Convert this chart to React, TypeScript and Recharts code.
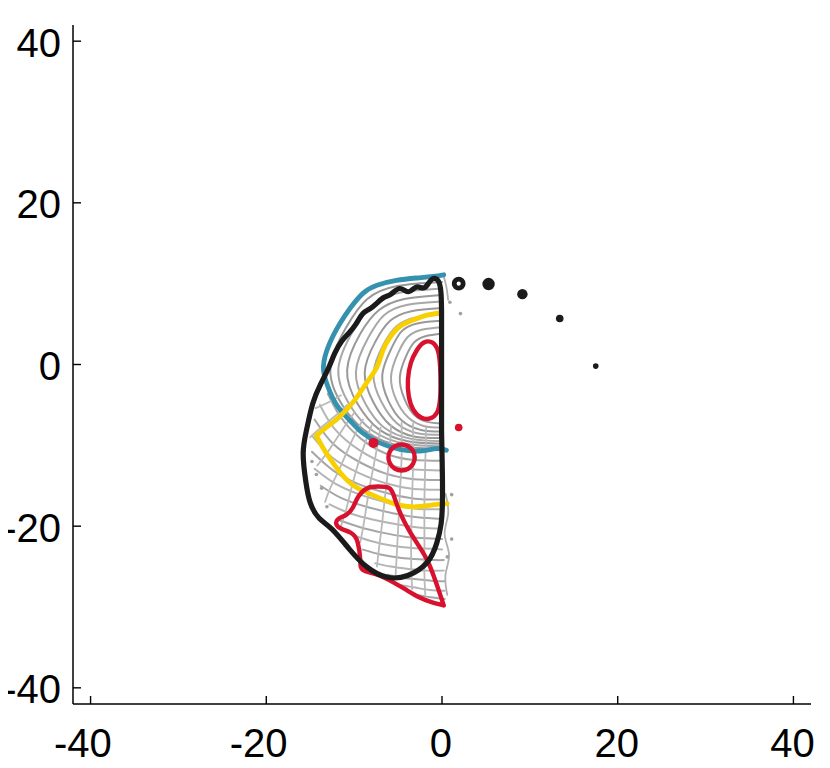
import { ScatterChart, Scatter, XAxis, YAxis } from "recharts";

type Pt = [number, number];

const xTicks = [-40, -20, 0, 20, 40];
const yTicks = [-40, -20, 0, 20, 40];

const blueLine: Pt[] = [
  [0.2, 11.1], [-1.0, 10.9], [-2.9, 10.7], [-5.2, 10.4], [-7.4, 9.8], [-9.0, 8.8],
  [-10.5, 6.9], [-11.6, 5.1], [-12.8, 2.6], [-13.5, -0.3], [-13.0, -2.7], [-12.0, -5.0],
  [-10.5, -6.9], [-9.0, -8.5], [-7.1, -9.7], [-4.8, -10.5], [-2.5, -10.7], [-0.6, -10.4], [0.5, -10.6],
];

const yellowUpper: Pt[] = [
  [-0.2, 6.4], [-1.7, 6.1], [-3.3, 5.5], [-4.8, 4.7], [-5.9, 3.4], [-6.7, 1.8], [-7.4, -0.3],
  [-8.6, -2.3], [-10.0, -4.5], [-11.8, -6.6], [-13.2, -7.8], [-14.3, -8.8],
];
const yellowLower: Pt[] = [
  [-14.3, -8.8], [-13.6, -10.2], [-12.6, -11.9], [-11.4, -13.6], [-9.9, -15.1], [-7.6, -16.3],
  [-5.2, -17.3], [-2.9, -17.6], [-0.6, -17.3], [0.6, -17.2],
];

const blackOutline: Pt[] = [
  [-0.05, 4.0], [-0.05, 1.0], [-0.05, -2.0], [-0.05, -5.0], [-0.05, -8.0], [0.0, -11.0],
  [0.05, -14.0], [0.05, -17.0], [-0.1, -19.7], [-0.6, -22.1], [-1.7, -24.5], [-3.9, -26.1],
  [-6.3, -26.3], [-8.6, -25.0], [-10.5, -22.9], [-12.5, -20.4], [-14.0, -19.0], [-15.0, -17.1],
  [-15.5, -14.5], [-15.8, -11.0], [-15.4, -8.0], [-14.7, -4.8], [-13.8, -2.4], [-12.9, -0.4],
  [-12.2, 1.4], [-11.4, 2.9], [-10.6, 3.9], [-9.8, 5.0], [-9.0, 6.3], [-8.2, 6.9], [-7.4, 7.6],
  [-6.6, 8.3], [-5.8, 8.7], [-4.8, 9.4], [-3.8, 9.0], [-2.9, 9.6], [-2.0, 9.5], [-1.2, 10.5],
  [-0.4, 10.3], [-0.1, 8.6], [-0.05, 6.3], [-0.05, 4.0],
];

const redCore: Pt[] = [
  [-3.95, -1.8], [-3.85, -4.0], [-3.35, -5.7], [-2.4, -6.7], [-1.3, -6.8], [-0.5, -6.1],
  [-0.2, -4.6], [-0.15, -2.5], [-0.2, -0.2], [-0.35, 1.7], [-1.0, 2.9], [-2.1, 2.9],
  [-2.9, 1.8], [-3.6, 0.3],
];

const redRing: Pt[] = [
  [-4.6, -9.82], [-3.82, -10.05], [-3.24, -10.66], [-3.03, -11.5], [-3.24, -12.34], [-3.82, -12.96],
  [-4.6, -13.18], [-5.38, -12.96], [-5.96, -12.34], [-6.17, -11.5], [-5.96, -10.66], [-5.38, -10.05],
];

const redLobe: Pt[] = [
  [0.2, -29.8], [-1.2, -29.4], [-2.6, -28.8], [-4.2, -27.8], [-5.8, -26.8], [-7.4, -26.0],
  [-9.0, -25.4], [-9.3, -24.2], [-9.6, -22.0], [-10.4, -20.8], [-11.8, -20.1], [-11.9, -19.2],
  [-10.9, -18.6], [-10.1, -17.6], [-9.5, -16.3], [-8.5, -15.3], [-7.3, -15.1], [-6.0, -15.3],
  [-5.4, -16.5], [-4.7, -18.5], [-3.7, -20.6], [-2.6, -22.5], [-1.6, -24.4], [-0.8, -26.6],
  [-0.2, -28.5], [0.2, -29.8],
];

const redDot: Pt[] = [[-7.8, -9.7]];
const redStar: Pt[] = [[1.9, -7.8]];

const blackDots: Pt[] = [[1.9, 10.0], [5.3, 9.95], [9.15, 8.7], [13.4, 5.7], [17.5, -0.2]];

const grayDots: Pt[] = [
  [-14.8, -12.0], [-14.3, -13.6], [-13.7, -15.3], [-13.1, -17.6], [1.1, -16.1],
  [1.1, -21.6], [0.6, -23.8], [2.1, 6.3], [0.9, 7.7],
];

const innerArcs: Pt[][] = [
  [[0, 3.8], [-1.9, 3.5], [-3.2, 2.7], [-4.1, 1.0], [-4.8, -1.6], [-4.3, -4.2], [-3.2, -6.2], [-1.7, -7.1], [0, -7.3]],
  [[0, 4.6], [-2.3, 4.3], [-3.9, 3.4], [-5.0, 1.4], [-5.8, -1.5], [-5.2, -4.4], [-3.9, -6.5], [-2.1, -7.6], [0, -7.8]],
  [[0, 5.4], [-2.7, 5.1], [-4.6, 4.1], [-5.8, 1.9], [-6.8, -1.3], [-6.1, -4.5], [-4.6, -6.9], [-2.4, -8.1], [0, -8.3]],
  [[0, 6.2], [-3.1, 5.8], [-5.2, 4.7], [-6.7, 2.4], [-7.8, -1.2], [-6.9, -4.6], [-5.2, -7.2], [-2.8, -8.5], [0, -8.7]],
  [[0, 7.0], [-3.5, 6.6], [-5.9, 5.4], [-7.6, 2.8], [-8.8, -1.0], [-7.8, -4.7], [-5.9, -7.5], [-3.2, -8.9], [0, -9.1]],
  [[0, 7.8], [-3.9, 7.4], [-6.6, 6.1], [-8.4, 3.3], [-9.8, -0.9], [-8.7, -4.9], [-6.6, -7.8], [-3.5, -9.2], [0, -9.5]],
  [[0, 8.6], [-4.3, 8.1], [-7.2, 6.7], [-9.3, 3.8], [-10.8, -0.7], [-9.6, -4.9], [-7.2, -8.0], [-3.9, -9.5], [0, -9.8]],
  [[0, 9.4], [-4.7, 8.9], [-7.9, 7.4], [-10.1, 4.2], [-11.8, -0.6], [-10.5, -5.0], [-7.9, -8.2], [-4.2, -9.8], [0, -10.1]],
  [[0, 10.2], [-5.1, 9.7], [-8.5, 8.1], [-10.9, 4.6], [-12.7, -0.5], [-11.3, -5.1], [-8.5, -8.4], [-4.6, -10.1], [0, -10.4]],
];

const lowerLines: Pt[][] = [
  [[-13.0, -3.6], [-11.6, -6.4], [-9.2, -9.2], [-6.2, -11.1], [-3.2, -11.8], [0, -11.9]],
  [[-13.9, -5.0], [-12.2, -8.0], [-9.4, -10.6], [-6.3, -12.3], [-3.2, -13.0], [0, -13.1]],
  [[-14.5, -6.8], [-12.4, -9.8], [-9.5, -12.0], [-6.4, -13.5], [-3.2, -14.2], [0, -14.3]],
  [[-14.8, -8.8], [-12.5, -11.5], [-9.5, -13.4], [-6.4, -14.7], [-3.2, -15.4], [0, -15.5]],
  [[-14.8, -10.8], [-12.4, -13.1], [-9.5, -14.8], [-6.3, -15.9], [-3.1, -16.6], [0, -16.7]],
  [[-14.5, -12.9], [-12.2, -14.7], [-9.3, -16.1], [-6.2, -17.1], [-3.1, -17.8], [0, -17.9]],
  [[-13.8, -15.0], [-11.5, -16.5], [-8.6, -17.6], [-5.6, -18.4], [-2.8, -18.9], [0, -19.1]],
  [[-12.8, -17.3], [-10.5, -18.4], [-7.8, -19.2], [-5.0, -19.8], [-2.4, -20.2], [0, -20.3]],
  [[-11.6, -19.3], [-9.4, -20.1], [-6.8, -20.8], [-4.2, -21.3], [-1.8, -21.5], [0, -21.6]],
  [[-10.3, -21.1], [-8.2, -21.8], [-5.8, -22.4], [-3.4, -22.7], [-1.2, -22.8], [0, -22.9]],
  [[-9.0, -22.9], [-7.0, -23.5], [-4.8, -23.9], [-2.6, -24.1], [-0.8, -24.2], [0.2, -24.2]],
  [[-7.6, -24.6], [-5.8, -25.0], [-3.8, -25.3], [-1.8, -25.5], [0.2, -25.5]],
  [[-6.2, -26.0], [-4.5, -26.4], [-2.6, -26.6], [-0.8, -26.8], [0.3, -26.8]],
  [[-4.6, -27.3], [-3.0, -27.6], [-1.4, -27.9], [0.3, -28.0]],
  [[-2.8, -28.5], [-1.3, -28.8], [0.3, -29.0]],
];

const radialLines: Pt[][] = [
  [[-11.5, -3.8], [-12.8, -4.6], [-14.4, -5.4]],
  [[-10.8, -5.0], [-12.3, -6.5], [-14.0, -8.0], [-15.0, -9.0]],
  [[-10.0, -6.0], [-11.3, -8.0], [-12.8, -10.5], [-14.2, -12.5]],
  [[-9.0, -6.8], [-10.2, -9.3], [-11.5, -12.5], [-12.8, -15.5], [-13.3, -17.0]],
  [[-8.0, -7.5], [-9.0, -10.5], [-10.0, -14.0], [-10.8, -17.5], [-11.5, -20.0]],
  [[-7.0, -7.8], [-7.6, -11.5], [-8.3, -15.5], [-8.8, -19.0], [-9.3, -22.0]],
  [[-5.8, -7.5], [-6.0, -11.5], [-6.4, -15.5], [-6.8, -19.5], [-7.2, -23.0], [-7.4, -25.0]],
  [[-4.6, -7.2], [-4.6, -11.5], [-4.8, -16.0], [-5.0, -20.5], [-5.2, -24.5], [-5.3, -26.5]],
  [[-3.3, -7.3], [-3.3, -12.0], [-3.4, -16.5], [-3.5, -21.0], [-3.5, -25.0], [-3.4, -27.8]],
  [[-1.8, -7.8], [-1.9, -12.0], [-2.0, -17.0], [-2.0, -22.0], [-2.0, -26.0], [-1.9, -28.5]],
];

const edgeLines: Pt[][] = [
  [[0.2, 10.9], [0.5, 9.6], [0.7, 8.0]],
  [[0.4, -16.0], [0.7, -18.5], [0.3, -21.0], [0.8, -23.5], [0.4, -26.0], [0.6, -28.5]],
];

const FONT = "'Liberation Sans', Arial, Helvetica, sans-serif";
const FS = 40;
const BLUE = "#3592ae";
const YELLOW = "#f8d000";
const RED = "#d8112e";
const BLACK = "#1b1b1b";

const dotRadius = [4.5, 6.2, 5.2, 3.8, 2.8];

const toRows = (pts: Pt[]) => pts.map(([x, y], i) => ({ x, y, i }));
const noDot = () => <g />;

function path(key: string, pts: Pt[], color: string, width: number, curve: any = "natural") {
  return (
    <Scatter
      key={key}
      data={toRows(pts)}
      line={{ stroke: color, strokeWidth: width, strokeLinecap: "round", strokeLinejoin: "round", fill: "none" }}
      lineJointType={curve}
      shape={noDot}
      isAnimationActive={false}
    />
  );
}

function XTick({ x, y, payload }: any) {
  const v = payload.value;
  const half = (String(Math.abs(v)).length * 0.556 * FS) / 2;
  return (
    <g>
      <line x1={x} x2={x} y1={y} y2={y - 8} stroke="#000" strokeWidth={1.4} />
      <text x={x + half - 1} y={y + 53} textAnchor="end" fontSize={FS} fontFamily={FONT} fill="#000">
        {v}
      </text>
    </g>
  );
}

function YTick({ x, y, payload }: any) {
  return (
    <g>
      <line x1={x} x2={x + 8} y1={y} y2={y} stroke="#000" strokeWidth={1.4} />
      <text x={x - 12} y={y + 15.5} textAnchor="end" fontSize={FS} fontFamily={FONT} fill="#000">
        {payload.value}
      </text>
    </g>
  );
}

export default function App() {
  return (
    <div style={{ margin: "-8px 0 0 -8px" }}>
      <ScatterChart width={822} height={764} margin={{ top: 25, right: 11, bottom: 0, left: 0 }}>
        <XAxis
          type="number"
          dataKey="x"
          domain={[-42, 42]}
          ticks={xTicks}
          interval={0}
          tickSize={0}
          tickMargin={0}
          tickLine={false}
          axisLine={{ stroke: "#000", strokeWidth: 1.5 }}
          tick={<XTick />}
          height={60}
          allowDataOverflow
        />
        <YAxis
          type="number"
          dataKey="y"
          domain={[-42, 42]}
          ticks={yTicks}
          interval={0}
          tickSize={0}
          tickMargin={0}
          tickLine={false}
          axisLine={{ stroke: "#000", strokeWidth: 1.5 }}
          tick={<YTick />}
          width={73}
          allowDataOverflow
        />
        {innerArcs.map((c, k) => path(`a${k}`, c, k % 2 ? "#a8a8a8" : "#999999", 2))}
        {lowerLines.map((c, k) => path(`h${k}`, c, k % 2 ? "#b4b4b4" : "#a6a6a6", 2))}
        {radialLines.map((c, k) => path(`r${k}`, c, "#bababa", 1.8))}
        {edgeLines.map((c, k) => path(`e${k}`, c, "#b0b0b0", 1.8))}
        <Scatter
          data={toRows(grayDots)}
          shape={(p: any) => <circle cx={p.cx} cy={p.cy} r={1.8} fill="#a0a0a0" />}
          isAnimationActive={false}
        />
        {path("blue", blueLine, BLUE, 4.8)}
        {path("yu", yellowUpper, YELLOW, 4.8)}
        {path("yl", yellowLower, YELLOW, 4.8)}
        {path("rc", redCore, RED, 4.4, "basisClosed")}
        {path("rr", redRing, RED, 4.4, "basisClosed")}
        {path("rl", redLobe, RED, 4.4)}
        <Scatter
          data={toRows(redDot)}
          shape={(p: any) => <circle cx={p.cx} cy={p.cy} r={5} fill={RED} />}
          isAnimationActive={false}
        />
        <Scatter
          data={toRows(redStar)}
          shape={(p: any) => <circle cx={p.cx} cy={p.cy} r={3.8} fill={RED} />}
          isAnimationActive={false}
        />
        {path("black", blackOutline, BLACK, 5.2)}
        <Scatter
          data={toRows(blackDots)}
          shape={(p: any) =>
            p.payload.i === 0 ? (
              <circle cx={p.cx} cy={p.cy} r={dotRadius[0]} fill="#fff" stroke={BLACK} strokeWidth={4.8} />
            ) : (
              <circle cx={p.cx} cy={p.cy} r={dotRadius[p.payload.i]} fill={BLACK} />
            )
          }
          isAnimationActive={false}
        />
      </ScatterChart>
    </div>
  );
}
